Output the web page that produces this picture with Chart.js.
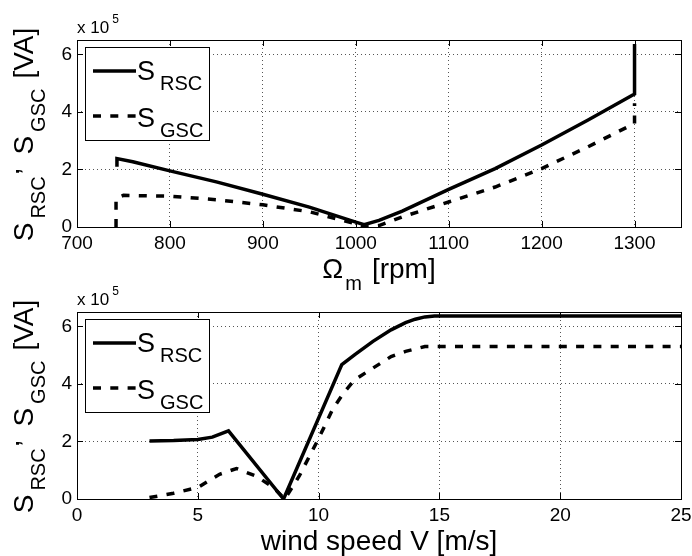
<!DOCTYPE html>
<html><head><meta charset="utf-8">
<script src="https://cdn.jsdelivr.net/npm/chart.js@4"></script>
<style>
html,body{margin:0;padding:0;background:#fff;width:692px;height:556px;overflow:hidden;position:relative;}
canvas{position:absolute;left:0;display:block;}
#c1{top:0;} #c2{top:278px;}
</style>
</head><body>
<canvas id="c1" width="692" height="300" style="width:692px;height:300px"></canvas>
<canvas id="c2" width="692" height="278" style="width:692px;height:278px"></canvas>
<script>
// ---------- data (values in units of 1e5 VA) ----------
// top: converter ratings vs rotor speed Omega_m [rpm]
const omegaRSC = [743, 743, 760, 800, 850, 900, 950, 1000, 1009, 1025, 1050, 1100, 1150, 1200, 1250, 1300, 1300];
const sRSCvsOmega = [2.09, 2.38, 2.27, 1.95, 1.57, 1.14, 0.69, 0.17, 0.08, 0.23, 0.55, 1.31, 2.03, 2.85, 3.72, 4.62, 6.36];
const omegaGSC = [742, 742, 750, 800, 850, 900, 950, 1000, 1010, 1025, 1050, 1100, 1150, 1200, 1250, 1300, 1300];
const sGSCvsOmega = [0, 0.99, 1.1, 1.07, 0.95, 0.77, 0.53, 0.11, 0, 0.05, 0.35, 0.87, 1.39, 2.03, 2.79, 3.6, 4.3];
// bottom: converter ratings vs wind speed V [m/s]
const windRSC = [3, 4, 5, 5.6, 6.27, 8.55, 10.96, 11.5, 12.25, 13, 13.6, 14, 14.4, 14.8, 25];
const sRSCvsWind = [2.02, 2.03, 2.07, 2.15, 2.37, 0, 4.67, 5.02, 5.48, 5.88, 6.13, 6.25, 6.33, 6.36, 6.36];
const windGSC = [3, 4, 5, 5.9, 6.6, 7.4, 8.1, 8.6, 9.2, 10, 10.6, 11.05, 11.5, 12.25, 13, 13.6, 14.4, 25];
const sGSCvsWind = [0.05, 0.2, 0.4, 0.86, 1.06, 0.8, 0.42, 0, 0.8, 2.1, 3.15, 3.7, 4.15, 4.55, 4.95, 5.13, 5.3, 5.3];
// axes
const omegaTicks = [700, 800, 900, 1000, 1100, 1200, 1300];
const windTicks = [0, 5, 10, 15, 20, 25];
const sTicks = [0, 2, 4, 6];
const omegaRange = [700, 1350];
const windRange = [0, 25];
const sRange = [0, 6.5];
// text
const seriesNames = ['S_RSC', 'S_GSC'];
const legendRSC = [{t:'S'}, {t:'RSC', sub:1, pre:5}];
const legendGSC = [{t:'S'}, {t:'GSC', sub:1, pre:5}];
const yTitle = [{t:'S'}, {t:'RSC', sub:1, pre:4}, {t:',', raise:1, pre:1}, {t:'S', pre:13}, {t:'GSC', sub:1, pre:4}, {t:'[VA]', pre:10}];
const xTitleTop = [{t:'\u03A9'}, {t:'m', sub:1, pre:2}, {t:'[rpm]', pre:10}];
const xTitleBottom = [{t:'wind speed V [m/s]'}];
const scaleNote = [{t:'x 10'}, {t:'5', sup:1, pre:3}];

const FAM = '"Liberation Sans", Arial, Helvetica, sans-serif';

function drawParts(ctx, parts, x, y, F, f, subDy, supDy, align) {
  const fm = F + 'px ' + FAM, fs = f + 'px ' + FAM;
  const ws = parts.map(p => { ctx.font = (p.sub || p.sup) ? fs : fm; return ctx.measureText(p.t).width + (p.pre || 0); });
  const total = ws.reduce((a, b) => a + b, 0);
  let cx = align === 'center' ? x - total / 2 : x;
  ctx.textAlign = 'left'; ctx.textBaseline = 'alphabetic'; ctx.fillStyle = '#000';
  parts.forEach((p, i) => {
    ctx.font = (p.sub || p.sup) ? fs : fm;
    const dy = p.sub ? subDy : p.sup ? -supDy : p.raise ? -Math.round(F * 0.5) : 0;
    ctx.fillText(p.t, cx + (p.pre || 0), y + dy);
    cx += ws[i];
  });
}

const decor = {
  id: 'decor',
  afterDatasetsDraw(chart, args, o) {
    const ctx = chart.ctx, a = chart.chartArea;
    const xs = chart.scales.x, ys = chart.scales.y;
    ctx.save();
    // box
    ctx.strokeStyle = '#000'; ctx.lineWidth = 1; ctx.setLineDash([]);
    ctx.strokeRect(Math.round(a.left) + 0.5, Math.round(a.top) + 0.5, Math.round(a.right - a.left), Math.round(a.bottom - a.top));
    // inward tick marks on all sides
    const L = 6;
    ctx.beginPath();
    o.xTicks.forEach(v => {
      const px = Math.round(xs.getPixelForValue(v)) + 0.5;
      ctx.moveTo(px, a.bottom); ctx.lineTo(px, a.bottom - L);
      ctx.moveTo(px, a.top); ctx.lineTo(px, a.top + L);
    });
    sTicks.forEach(v => {
      const py = Math.round(ys.getPixelForValue(v)) + 0.5;
      ctx.moveTo(a.left, py); ctx.lineTo(a.left + L, py);
      ctx.moveTo(a.right, py); ctx.lineTo(a.right - L, py);
    });
    ctx.stroke();
    // legend
    const lx = a.left + 8, ly = a.top + 7, lw = 124, lh = 93;
    ctx.fillStyle = '#fff';
    ctx.fillRect(lx, ly, lw, lh);
    ctx.strokeStyle = '#000'; ctx.lineWidth = 1;
    ctx.strokeRect(lx + 0.5, ly + 0.5, lw, lh);
    ctx.lineWidth = 3.5; ctx.lineCap = 'butt';
    ctx.beginPath(); ctx.moveTo(lx + 8, ly + 24); ctx.lineTo(lx + 51, ly + 24); ctx.stroke();
    ctx.setLineDash([8, 9.3]);
    ctx.beginPath(); ctx.moveTo(lx + 8, ly + 69); ctx.lineTo(lx + 51, ly + 69); ctx.stroke();
    ctx.setLineDash([]);
    drawParts(ctx, legendRSC, lx + 52, ly + 33, 27, 20, 10, 0, 'left');
    drawParts(ctx, legendGSC, lx + 52, ly + 80, 27, 20, 10, 0, 'left');
    ctx.restore();
  },
  afterDraw(chart, args, o) {
    const ctx = chart.ctx, a = chart.chartArea;
    ctx.save();
    // x 10^5
    drawParts(ctx, scaleNote, a.left, a.top - 7, 17, 12, 0, 10, 'left');
    // x title
    drawParts(ctx, o.xTitle, (a.left + a.right) / 2, a.bottom + 51, 28, 20, 12, 0, 'center');
    // y title (rotated)
    ctx.translate(33, (a.top + a.bottom) / 2 + 1);
    ctx.rotate(-Math.PI / 2);
    drawParts(ctx, yTitle, 0, 0, 28, 20, 12, 0, 'center');
    ctx.restore();
  }
};

function pts(xs, ys) { return xs.map((x, i) => ({x: x, y: ys[i]})); }

function makeChart(id, H, topPad, bottomY, xr, xTicks, xTitle, d) {
  return new Chart(document.getElementById(id), {
    type: 'line',
    data: {
      datasets: [
        {label: seriesNames[0], data: pts(d[0], d[1]), borderColor: '#000', borderWidth: 3.5,
         pointRadius: 0, pointHoverRadius: 0, tension: 0, fill: false},
        {label: seriesNames[1], data: pts(d[2], d[3]), borderColor: '#000', borderWidth: 3.5,
         borderDash: [8, 9.3], borderCapStyle: 'butt', pointRadius: 0, pointHoverRadius: 0, tension: 0, fill: false}
      ]
    },
    options: {
      responsive: false, animation: false, devicePixelRatio: 1,
      layout: {padding: {left: 0, right: 11, top: topPad, bottom: 0}},
      plugins: {legend: {display: false}, tooltip: {enabled: false}, decor: {xTicks: xTicks, xTitle: xTitle}},
      scales: {
        x: {
          type: 'linear', min: xr[0], max: xr[1],
          afterBuildTicks: s => { s.ticks = xTicks.map(v => ({value: v})); },
          afterFit: s => { s.height = H - bottomY; s.paddingLeft = 0; s.paddingRight = 0; },
          grid: {drawTicks: false, color: '#555', lineWidth: 1},
          border: {display: false, dash: [1, 3]},
          ticks: {color: '#000', font: {family: FAM, size: 19}, padding: 5, maxRotation: 0, autoSkip: false,
                  callback: v => String(v)}
        },
        y: {
          type: 'linear', min: sRange[0], max: sRange[1],
          afterBuildTicks: s => { s.ticks = sTicks.map(v => ({value: v})); },
          afterFit: s => { s.width = 77; s.paddingTop = 0; s.paddingBottom = 0; },
          grid: {drawTicks: false, color: '#555', lineWidth: 1},
          border: {display: false, dash: [1, 3]},
          ticks: {color: '#000', font: {family: FAM, size: 19}, padding: 5, callback: v => String(v)}
        }
      }
    },
    plugins: [decor]
  });
}

makeChart('c1', 300, 40, 227, omegaRange, omegaTicks, xTitleTop, [omegaRSC, sRSCvsOmega, omegaGSC, sGSCvsOmega]);
makeChart('c2', 278, 34, 221, windRange, windTicks, xTitleBottom, [windRSC, sRSCvsWind, windGSC, sGSCvsWind]);
</script>
</body></html>
